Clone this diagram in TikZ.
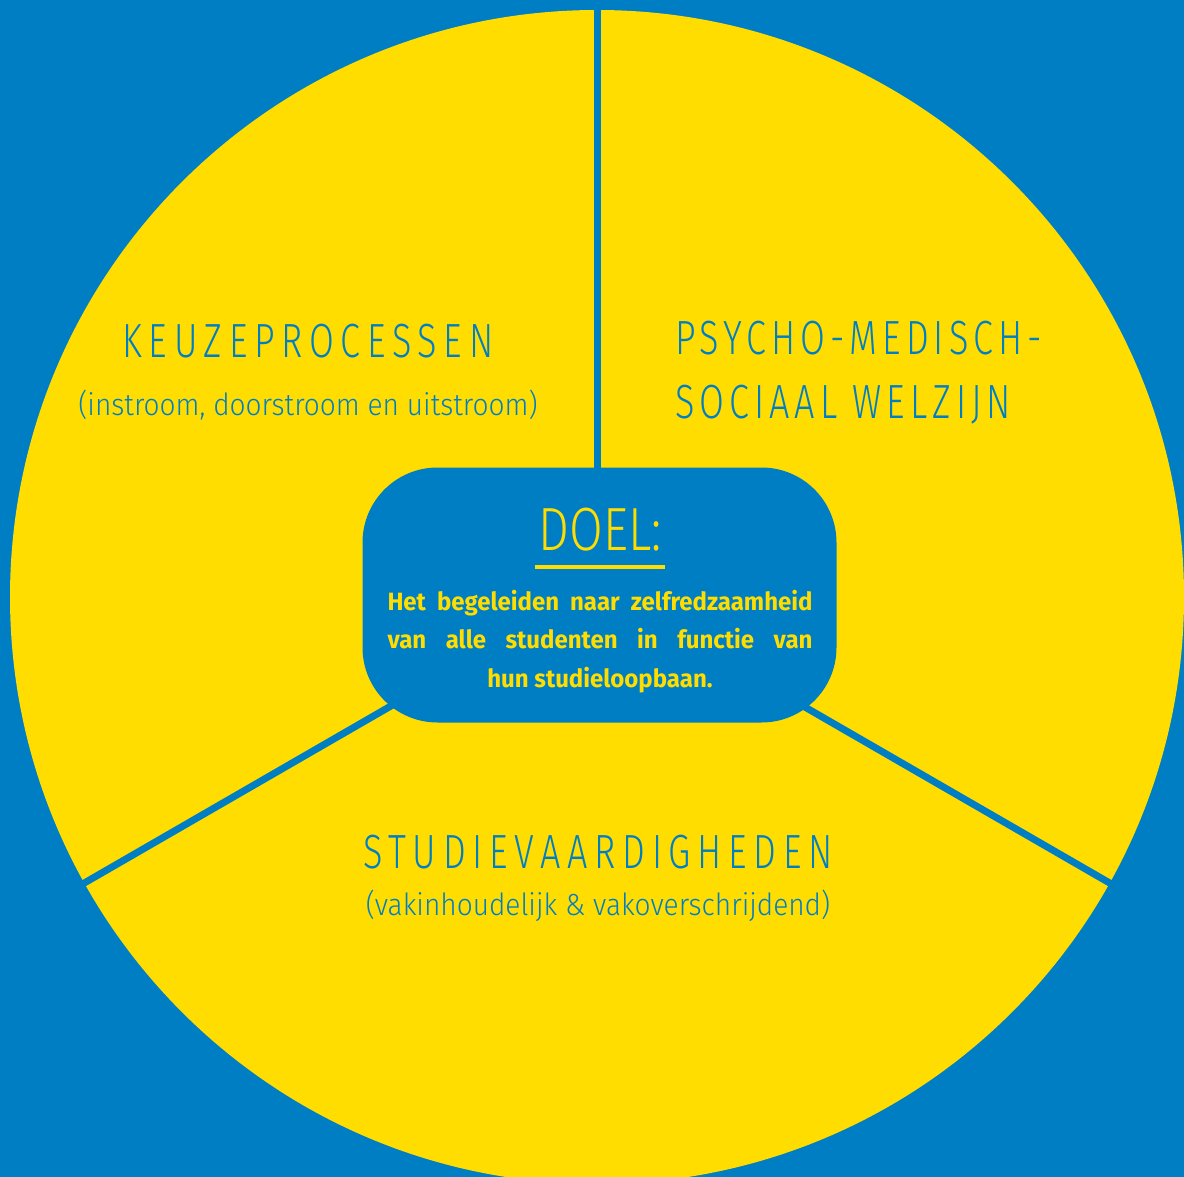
\documentclass[tikz,border=0pt]{standalone}
\usepackage{fontspec}
\setmainfont{Fira Sans Light}[FakeStretch=0.92]
\newfontfamily\titlefont{Fira Sans Light}[FakeStretch=0.75,LetterSpace=14]
\newfontfamily\goalfont{Fira Sans}[FakeStretch=0.96]
\definecolor{kulblue}{RGB}{0,126,196}
\definecolor{kulyellow}{RGB}{255,221,0}
\newlength\goalwd
\setlength\goalwd{425pt}

\begin{document}
\begin{tikzpicture}[x=1pt,y=-1pt,
  divider/.style={kulblue,line width=7pt},
  title/.style={kulblue,inner sep=0pt,anchor=base,font=\titlefont\fontsize{48}{64}\selectfont},
  sub/.style={kulblue,inner sep=0pt,anchor=base,font=\fontsize{30.5}{36}\selectfont}]
\useasboundingbox[fill=kulblue] (0,0) rectangle (1184,1177);
\clip (0,0) rectangle (1184,1177);
\coordinate (c) at (597,597);
\coordinate (hub) at (597,587);
\fill[kulyellow] (c) circle[radius=587];
% three sectors
\draw[divider] (hub) -- ++(270:600);
\draw[divider] (hub) -- ++(30:620);
\draw[divider] (hub) -- ++(150:620);
% goal in the middle
\node[fill=kulblue,rounded corners=75pt,minimum width=474pt,minimum height=255pt] (goal) at (599.5,595) {};
\node[kulyellow,inner sep=0pt,anchor=base,font=\fontsize{61}{70}\selectfont\addfontfeatures{FakeStretch=0.8}] (doel) at (600,550) {DOEL:};
\draw[kulyellow,line width=3.3pt] ([xshift=-3pt,yshift=-17pt]doel.base west) -- ([xshift=3pt,yshift=-17pt]doel.base east);
\node[kulyellow,inner sep=0pt,anchor=north,align=center,font=\goalfont\bfseries\fontsize{25}{38.5}\selectfont] (aim) at (600,590)
  {\makebox[\goalwd][s]{Het begeleiden naar zelfredzaamheid}\\
   \makebox[\goalwd][s]{van alle studenten in functie van}\\
   hun studieloopbaan.};
% sector labels
\node[title] (keuze) at (308,357) {KEUZEPROCESSEN};
\node[sub] (keuzesub) at (308,415) {(instroom, doorstroom en uitstroom)};
\node[title,anchor=north west,align=left,font=\titlefont\fontsize{48}{64}\selectfont\addfontfeatures{LetterSpace=10.5}] (psycho) at (675,321)
  {PSYCHO-MEDISCH-\\SOCIAAL WELZIJN};
\node[title] (studie) at (598,868) {STUDIEVAARDIGHEDEN};
\node[sub] (studiesub) at (598,915) {(vakinhoudelijk \& vakoverschrijdend)};
\end{tikzpicture}
\end{document}
